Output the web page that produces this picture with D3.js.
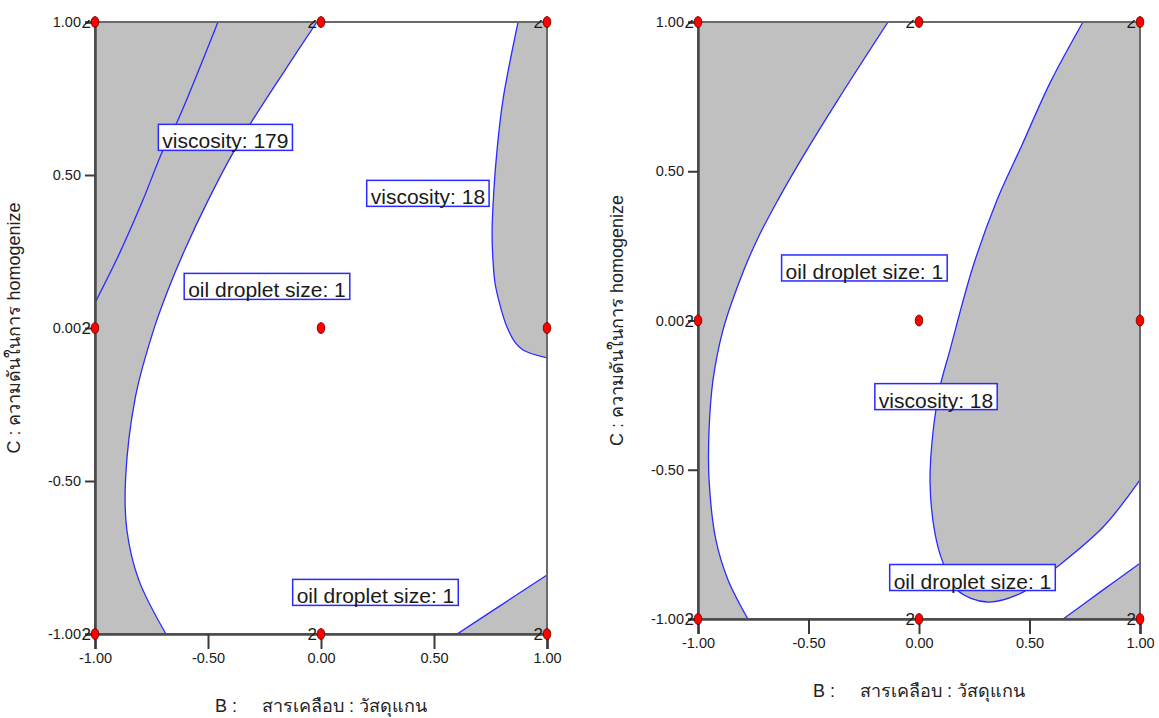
<!DOCTYPE html>
<html>
<head>
<meta charset="utf-8">
<script src="https://cdn.jsdelivr.net/npm/d3@7"></script>
<style>
  body { margin: 0; background: #fff; }
  svg { display: block; font-family: "Liberation Sans", Arial, sans-serif; }
</style>
</head>
<body>
<svg width="1159" height="718"></svg>
<script>
// axis ticks (coded factor levels)
const bTicks = [-1, -0.5, 0, 0.5, 1];
const cTicks = [-1, -0.5, 0, 0.5, 1];

// design points and their replicate counts
const designB = [-1, 0, 1, -1, 0, 1, -1, 0, 1];
const designC = [1, 1, 1, 0, 0, 0, -1, -1, -1];
const designCount = ["2", "2", "2", "2", "", "", "2", "2", "2"];

// left plot contours, [B, C]
const leftVisc179 = [[-0.456, 1], [-0.637, 0.673], [-0.699, 0.582], [-0.788, 0.418], [-0.889, 0.248], [-1, 0.082]];
const leftOil = [[-0.018, 1], [-0.159, 0.843], [-0.308, 0.673], [-0.382, 0.582], [-0.499, 0.418], [-0.603, 0.255],
  [-0.677, 0.124], [-0.741, -0.007], [-0.821, -0.225], [-0.865, -0.497], [-0.859, -0.66], [-0.806, -0.824], [-0.686, -1]];
const leftVisc18 = [[0.872, 1], [0.805, 0.745], [0.779, 0.582], [0.765, 0.451], [0.757, 0.31], [0.761, 0.222],
  [0.77, 0.147], [0.792, 0.075], [0.823, 0.003], [0.858, -0.046], [0.894, -0.072], [1, -0.098]];
const leftOilLow = [[0.602, -1], [0.792, -0.908], [1, -0.807]];

// right plot contours, [B, C]
const rightOil = [[-0.14, 1], [-0.367, 0.739], [-0.534, 0.538], [-0.638, 0.404], [-0.733, 0.27], [-0.81, 0.136],
  [-0.887, -0.032], [-0.932, -0.199], [-0.95, -0.367], [-0.95, -0.534], [-0.919, -0.735], [-0.864, -0.869], [-0.774, -1]];
const rightVisc18 = [[0.742, 1], [0.593, 0.796], [0.466, 0.588], [0.353, 0.404], [0.244, 0.18], [0.14, -0.099],
  [0.095, -0.223], [0.063, -0.377], [0.05, -0.544], [0.072, -0.712], [0.109, -0.812], [0.172, -0.903],
  [0.308, -0.943], [0.471, -0.91], [0.624, -0.826], [0.833, -0.692], [1, -0.534]];
const rightOilLow = [[0.652, -1], [0.819, -0.91], [1, -0.813]];

// contour flags
const leftLabels = [
  {text: "viscosity: 179", b: -0.423, c: 0.623},
  {text: "viscosity: 18", b: 0.473, c: 0.44},
  {text: "oil droplet size: 1", b: -0.239, c: 0.136},
  {text: "oil droplet size: 1", b: 0.241, c: -0.864}
];
const rightLabels = [
  {text: "oil droplet size: 1", b: -0.247, c: 0.176},
  {text: "viscosity: 18", b: 0.077, c: -0.255},
  {text: "oil droplet size: 1", b: 0.242, c: -0.861}
];

const xTitle = "B :     สารเคลือบ : วัสดุแกน";
const yTitle = "C : ความดันในการ homogenize";

const panels = [
  {id: "l", left: 95, right: 547, top: 22, bottom: 634,
   fills: [{line: leftOil, corners: [[-1, -1], [-1, 1]]},
           {line: leftVisc18, corners: [[1, 1]]},
           {line: leftOilLow, corners: [[1, -1]]}],
   lines: [leftVisc179, leftOil, leftVisc18, leftOilLow],
   labels: leftLabels},
  {id: "r", left: 698, right: 1140, top: 22, bottom: 619,
   fills: [{line: rightOil, corners: [[-1, -1], [-1, 1]]},
           {line: rightVisc18, corners: [[1, 1]]},
           {line: rightOilLow, corners: [[1, -1]]}],
   lines: [rightOil, rightVisc18, rightOilLow],
   labels: rightLabels}
];

const fmt = d3.formatLocale({decimal: ".", thousands: ",", grouping: [3], currency: ["", ""], minus: "-"}).format(".2f");
const svg = d3.select("svg");
const defs = svg.append("defs");

panels.forEach(p => {
  const x = d3.scaleLinear().domain([-1, 1]).range([p.left, p.right]);
  const y = d3.scaleLinear().domain([-1, 1]).range([p.bottom, p.top]);
  const line = d3.line().x(d => x(d[0])).y(d => y(d[1])).curve(d3.curveCatmullRom);

  defs.append("clipPath").attr("id", "clip-" + p.id)
    .append("rect").attr("x", p.left).attr("y", p.top)
    .attr("width", p.right - p.left).attr("height", p.bottom - p.top);
  defs.append("clipPath").attr("id", "lab-" + p.id)
    .append("rect").attr("x", p.left - 60).attr("y", p.top - 2)
    .attr("width", p.right - p.left + 80).attr("height", p.bottom - p.top + 40);

  const g = svg.append("g");
  const plot = g.append("g").attr("clip-path", `url(#clip-${p.id})`);

  plot.append("rect").attr("x", p.left).attr("y", p.top)
    .attr("width", p.right - p.left).attr("height", p.bottom - p.top).attr("fill", "#fff");

  plot.selectAll("path.region").data(p.fills).enter().append("path")
    .attr("class", "region")
    .attr("d", f => line(f.line) + f.corners.map(c => `L${x(c[0])},${y(c[1])}`).join("") + "Z")
    .attr("fill", "#c0c0c0");

  plot.selectAll("path.contour").data(p.lines).enter().append("path")
    .attr("class", "contour")
    .attr("d", line)
    .attr("fill", "none").attr("stroke", "#2a2aff").attr("stroke-width", 1.3);

  // frame
  g.append("rect").attr("x", p.left).attr("y", p.top)
    .attr("width", p.right - p.left).attr("height", p.bottom - p.top)
    .attr("fill", "none").attr("stroke", "#6a6a6a").attr("stroke-width", 2);

  // axes
  const xa = g.append("g").attr("transform", `translate(0,${p.bottom})`)
    .call(d3.axisBottom(x).tickValues(bTicks).tickFormat(fmt).tickSize(15).tickPadding(4));
  const ya = g.append("g").attr("transform", `translate(${p.left},0)`)
    .call(d3.axisLeft(y).tickValues(cTicks).tickFormat(fmt).tickSize(10).tickPadding(4));
  [xa, ya].forEach(a => {
    a.select(".domain").attr("stroke", "#4a4a4a").attr("stroke-width", 2.5);
    a.selectAll(".tick line").attr("stroke", "#3a3a3a").attr("stroke-width", 2);
    a.selectAll(".tick text").attr("fill", "#1a1a1a").style("font-size", "14.5px")
      .style("font-family", "'Liberation Sans', Arial, sans-serif");
  });

  // design points
  const pts = designB.map((b, i) => ({b, c: designC[i], n: designCount[i]}));
  g.append("g").attr("clip-path", `url(#lab-${p.id})`)
    .selectAll("text").data(pts.filter(d => d.n)).enter().append("text")
    .attr("x", d => x(d.b) - 4).attr("y", d => y(d.c) + 6)
    .attr("text-anchor", "end").attr("fill", "#1a1a1a").style("font-size", "17px")
    .text(d => d.n);
  g.append("g").selectAll("ellipse").data(pts).enter().append("ellipse")
    .attr("cx", d => x(d.b)).attr("cy", d => y(d.c)).attr("rx", 3.8).attr("ry", 5.5)
    .attr("fill", "#ff0000").attr("stroke", "#5a0000").attr("stroke-width", 0.8);

  // contour flags
  const lab = g.append("g").selectAll("g").data(p.labels).enter().append("g")
    .attr("transform", d => `translate(${x(d.b)},${y(d.c)})`);
  lab.append("text").attr("text-anchor", "middle").attr("y", 11)
    .attr("fill", "#1a1a1a").style("font-size", "21px").text(d => d.text);
  lab.each(function () {
    const w = d3.select(this).select("text").node().getComputedTextLength() + 8;
    d3.select(this).insert("rect", "text")
      .attr("x", -w / 2).attr("y", -13).attr("width", w).attr("height", 26)
      .attr("fill", "#fff").attr("stroke", "#2a2aff").attr("stroke-width", 1.5);
  });

  // titles
  g.append("text").attr("x", x(0)).attr("y", p.bottom + 78)
    .attr("text-anchor", "middle").attr("fill", "#222").style("font-size", "18px")
    .style("white-space", "pre").text(xTitle);
  g.append("text")
    .attr("transform", `translate(${p.left - 75},${(p.top + p.bottom) / 2}) rotate(-90)`)
    .attr("text-anchor", "middle").attr("fill", "#222").style("font-size", "18px")
    .text(yTitle);
});
</script>
</body>
</html>
